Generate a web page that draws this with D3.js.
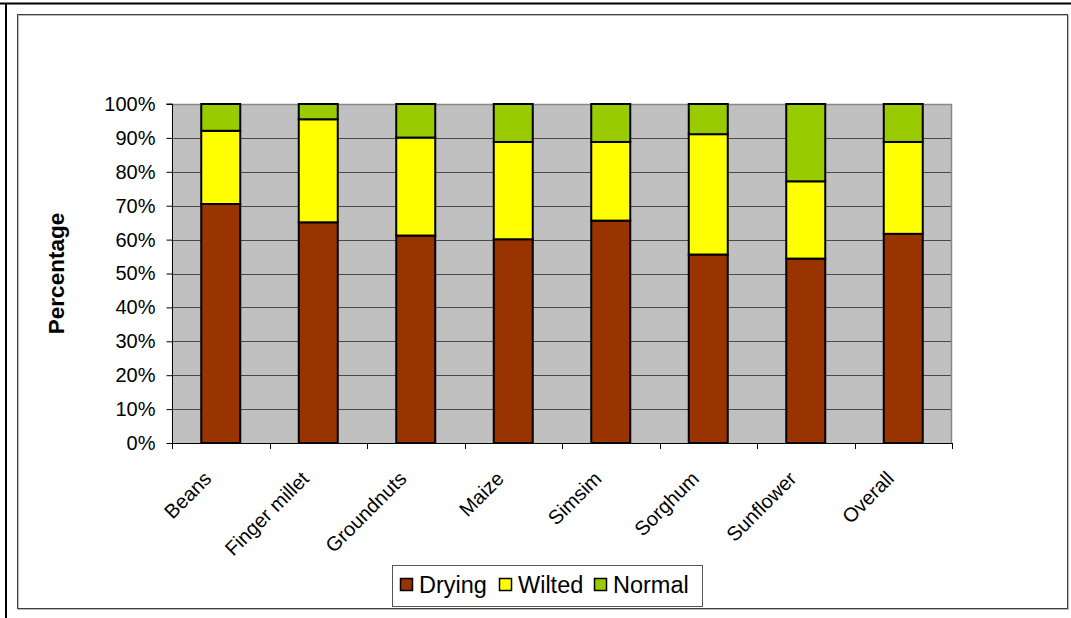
<!DOCTYPE html>
<html>
<head>
<meta charset="utf-8">
<script src="https://cdn.jsdelivr.net/npm/d3@7"></script>
<style>
  html, body { margin: 0; padding: 0; background: #fff; }
  svg { display: block; font-family: "Liberation Sans", Arial, sans-serif; }
</style>
</head>
<body>
<svg id="chart" width="1071" height="618"></svg>
<script>
// Crop condition data (percent of plants)
const categories = ["Beans", "Finger millet", "Groundnuts", "Maize", "Simsim", "Sorghum", "Sunflower", "Overall"];
const drying = [70.5, 65.1, 61.2, 60.1, 65.6, 55.6, 54.4, 61.7];
const wilted = [21.6, 30.4, 28.9, 28.7, 23.2, 35.5, 22.8, 27.1];
const normal = [7.9, 4.5, 9.9, 11.2, 11.2, 8.9, 22.8, 11.2];
const seriesNames = ["Drying", "Wilted", "Normal"];
const seriesColors = ["#993300", "#FFFF00", "#99CC00"];
const yTicks = [0, 10, 20, 30, 40, 50, 60, 70, 80, 90, 100];

const svg = d3.select("#chart");

// Frame
svg.append("line").attr("x1", 0).attr("x2", 1071).attr("y1", 3.5).attr("y2", 3.5)
  .attr("stroke", "#000").attr("stroke-width", 2);
svg.append("line").attr("x1", 6).attr("x2", 6).attr("y1", 3).attr("y2", 618)
  .attr("stroke", "#000").attr("stroke-width", 2);
svg.append("rect").attr("x", 18.5).attr("y", 15.5).attr("width", 1050).attr("height", 594)
  .attr("fill", "none").attr("stroke", "#bbb").attr("stroke-width", 1);
svg.append("rect").attr("x", 17.5).attr("y", 14.5).attr("width", 1050).attr("height", 594)
  .attr("fill", "none").attr("stroke", "#404040").attr("stroke-width", 1);

const plot = { left: 172, right: 952, top: 104, bottom: 443 };

const x = d3.scaleBand().domain(categories).range([plot.left, plot.right]).paddingInner(0).paddingOuter(0);
const y = d3.scaleLinear().domain([0, 100]).range([plot.bottom, plot.top]);

// Plot background
svg.append("rect").attr("x", plot.left).attr("y", plot.top)
  .attr("width", plot.right - plot.left).attr("height", plot.bottom - plot.top)
  .attr("fill", "#C0C0C0");

// Gridlines
svg.append("g").selectAll("line").data(yTicks.filter(d => d > 0)).join("line")
  .attr("x1", plot.left).attr("x2", plot.right)
  .attr("y1", d => Math.round(y(d)) + 0.5).attr("y2", d => Math.round(y(d)) + 0.5)
  .attr("stroke", "#4a4a4a").attr("stroke-width", 1);

// Plot border (top/right)
svg.append("path")
  .attr("d", `M${plot.left},${plot.top + 0.5}H${plot.right - 0.5}V${plot.bottom}`)
  .attr("fill", "none").attr("stroke", "#888").attr("stroke-width", 1.5);

// Stacked bars
const rows = categories.map((c, i) => ({ cat: c, Drying: drying[i], Wilted: wilted[i], Normal: normal[i] }));
const stacked = d3.stack().keys(seriesNames)(rows);
const barW = x.bandwidth() / 2.5;

stacked.forEach((layer, si) => {
  svg.append("g").selectAll("rect").data(layer).join("rect")
    .attr("x", d => x(d.data.cat) + (x.bandwidth() - barW) / 2)
    .attr("y", d => y(d[1]))
    .attr("width", barW)
    .attr("height", d => y(d[0]) - y(d[1]))
    .attr("fill", seriesColors[si])
    .attr("stroke", "#000").attr("stroke-width", 2);
});

// Y axis
const yAxis = d3.axisLeft(y).tickValues(yTicks).tickFormat(d => d + "%").tickSize(6).tickPadding(11);
const gy = svg.append("g").attr("transform", `translate(${plot.left + 0.5},0)`).call(yAxis);
gy.select(".domain").attr("stroke", "#000").attr("d", `M-6,${plot.top}H0V${plot.bottom}`);
gy.selectAll(".tick line").attr("stroke", "#000");
gy.selectAll(".tick text").attr("font-size", 20).attr("fill", "#000")
  .attr("font-family", "Liberation Sans, Arial, sans-serif");

// X axis: ticks at category boundaries
const boundaries = categories.map(c => x(c)).concat([plot.right]);
svg.append("line").attr("x1", plot.left).attr("x2", plot.right)
  .attr("y1", plot.bottom + 0.5).attr("y2", plot.bottom + 0.5).attr("stroke", "#000");
svg.append("g").selectAll("line").data(boundaries).join("line")
  .attr("x1", d => Math.round(d) + 0.5).attr("x2", d => Math.round(d) + 0.5)
  .attr("y1", plot.bottom).attr("y2", plot.bottom + 6).attr("stroke", "#000");

svg.append("g").selectAll("text").data(categories).join("text")
  .attr("transform", d => `translate(${x(d) + x.bandwidth() / 2 - 13},${plot.bottom + 32}) rotate(-45)`)
  .attr("text-anchor", "end")
  .attr("dy", "0.35em")
  .attr("font-size", 20)
  .attr("fill", "#000")
  .text(d => d);

// Y axis title
svg.append("text")
  .attr("transform", `translate(64,${(plot.top + plot.bottom) / 2}) rotate(-90)`)
  .attr("text-anchor", "middle")
  .attr("font-size", 22.5).attr("font-weight", "bold").attr("fill", "#000")
  .text("Percentage");

// Legend
const legend = svg.append("g");
legend.append("rect").attr("x", 392.5).attr("y", 565.5).attr("width", 310).attr("height", 41)
  .attr("fill", "#fff").attr("stroke", "#555").attr("stroke-width", 1);
const legendX = [400, 499, 594];
seriesNames.forEach((name, i) => {
  legend.append("rect").attr("x", legendX[i] + 0.5).attr("y", 578.5).attr("width", 12).attr("height", 12)
    .attr("fill", seriesColors[i]).attr("stroke", "#000").attr("stroke-width", 1.5);
  legend.append("text").attr("x", legendX[i] + 19).attr("y", 585).attr("dy", "0.35em")
    .attr("font-size", 23.5).attr("fill", "#000").text(name);
});
</script>
</body>
</html>
